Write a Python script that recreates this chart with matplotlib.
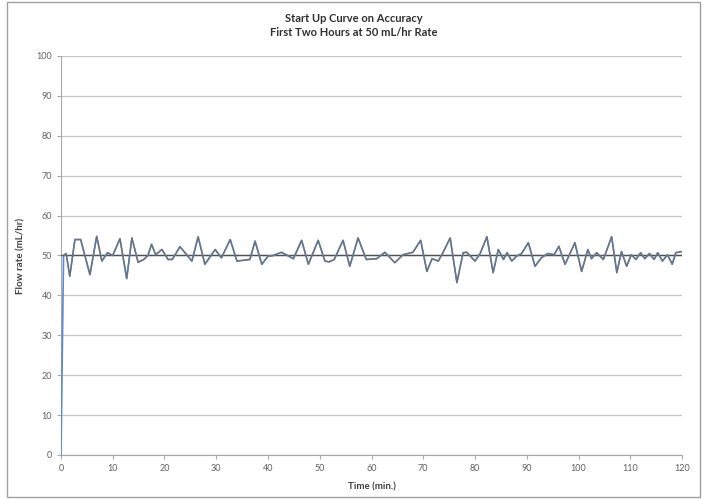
import matplotlib.pyplot as plt
from matplotlib.patches import Rectangle

plt.rcParams['font.family'] = ['Lato', 'DejaVu Sans']

# Flow rate readings (min, mL/hr)
time_min = [0, 0.5, 1.0, 1.7, 2.7, 3.8, 5.6, 6.9, 7.9, 9.0, 10.0, 11.4, 12.7, 13.7,
            14.9, 16.0, 16.8, 17.5, 18.3, 19.5, 20.7, 21.5, 23.0, 25.3, 26.5, 27.8,
            29.8, 31.0, 32.7, 34.0, 36.5, 37.5, 38.8, 40.0, 41.0, 42.6, 43.5, 44.9,
            46.5, 47.8, 49.7, 51.0, 51.8, 52.8, 54.5, 55.8, 57.4, 59.0, 61.0, 62.6,
            64.5, 66.1, 68.0, 69.5, 70.7, 71.7, 72.9, 73.8, 75.2, 76.5, 77.7, 78.4,
            80.0, 81.0, 82.3, 83.5, 84.5, 85.5, 86.2, 87.1, 88.0, 89.0, 90.3, 91.6,
            92.8, 94.1, 95.3, 96.2, 97.4, 99.3, 100.6, 101.8, 102.5, 103.5, 104.8,
            106.4, 107.4, 108.3, 109.3, 110.2, 111.1, 112.0, 112.8, 113.7, 114.6,
            115.3, 116.2, 117.2, 118.1, 118.8, 120.0]
flow_rate = [0, 50.0, 50.5, 44.8, 54.0, 54.0, 45.2, 54.8, 48.6, 50.7, 50.0, 54.2, 44.2, 54.4,
             48.3, 49.0, 50.0, 52.8, 50.2, 51.5, 49.0, 49.0, 52.2, 48.6, 54.7, 47.8,
             51.5, 49.4, 54.0, 48.6, 49.0, 53.6, 47.8, 49.8, 50.0, 50.8, 50.2, 49.2,
             53.8, 47.8, 53.8, 48.6, 48.4, 49.0, 53.8, 47.3, 54.4, 49.0, 49.2, 50.8,
             48.2, 50.2, 50.8, 53.8, 46.0, 49.2, 48.6, 50.7, 54.4, 43.2, 50.7, 50.8,
             48.6, 50.5, 54.7, 45.7, 51.5, 49.0, 50.7, 48.6, 49.8, 50.5, 53.2, 47.3,
             49.4, 50.5, 50.2, 52.3, 47.8, 53.2, 46.0, 51.5, 49.2, 50.7, 49.0,
             54.7, 45.7, 51.0, 47.3, 50.2, 49.0, 50.7, 49.2, 50.5, 49.0,
             50.7, 48.6, 50.2, 47.8, 50.7, 51.0]

target_time = [0, 120]
target_rate = [50, 50]

fig = plt.figure(figsize=(7.04, 4.99), dpi=100)
ax = fig.add_axes([0.0866, 0.0882, 0.8822, 0.7996])

ax.plot(target_time, target_rate, color='#505050', lw=1.0, zorder=3)
ax.plot(time_min, flow_rate, color='#5b8ac8', lw=1.2, zorder=4)
ax.plot(time_min[1:], flow_rate[1:], color='#6c747e', lw=1.0, zorder=5)

ax.set_xlim(0, 120)
ax.set_ylim(0, 100)
ax.set_xticks(range(0, 121, 10))
ax.set_yticks(range(0, 101, 10))
ax.grid(axis='y', color='#c8c8c8', lw=1.0)
ax.set_axisbelow(True)
for s in ['top', 'right']:
    ax.spines[s].set_visible(False)
for s in ['left', 'bottom']:
    ax.spines[s].set_color('#a8a8a8')
ax.tick_params(labelsize=6.5, colors='#606060', length=3, color='#a8a8a8')

ax.set_xlabel('Time (min.)', fontsize=7, fontweight='bold', color='#404040', labelpad=7)
ax.set_ylabel('Flow rate (mL/hr)', fontsize=7, fontweight='bold', color='#404040', labelpad=8)

fig.text(0.502, 0.963, 'Start Up Curve on Accuracy', ha='center', va='center',
         fontsize=8, fontweight='bold', color='#303030')
fig.text(0.502, 0.934, 'First Two Hours at 50 mL/hr Rate', ha='center', va='center',
         fontsize=8, fontweight='bold', color='#303030')

fig.patches.append(Rectangle((7 / 704, 2 / 499), 693 / 704, 495 / 499, transform=fig.transFigure,
                             fill=False, edgecolor='#a0a0a0', lw=1.0))

fig.savefig('out.png', dpi=100)
